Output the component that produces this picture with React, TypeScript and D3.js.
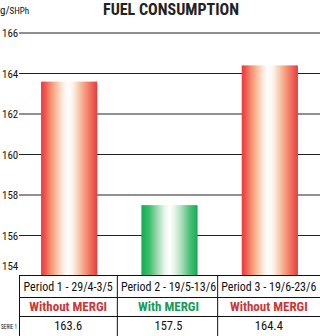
import React from "react";
import * as d3 from "d3";

const categories = ["Period 1 - 29/4-3/5", "Period 2 - 19/5-13/6", "Period 3 - 19/6-23/6"];
const conditions = ["Without MERGI", "With MERGI", "Without MERGI"];
const values = [163.6, 157.5, 164.4];
const valueLabels = ["163.6", "157.5", "164.4"];
const ticks = [154, 156, 158, 160, 162, 164, 166];
const seriesName = "SERIE 1";

const W = 320, H = 336;
const FONT = "'Liberation Sans Narrow', 'Arial Narrow', 'Roboto Condensed', 'Liberation Sans', sans-serif";

export default function App() {
  const y = d3.scaleLinear().domain([154, 166]).range([276, 33]);
  const x = d3.scaleBand<string>().domain(categories).range([19, 320]).paddingInner(0);
  const bw = x.bandwidth();
  const barW = bw * 0.56;
  const isGreen = (i: number) => conditions[i] === "With MERGI";
  const tableTop = 275;
  const rowLines = [297, 316];
  return (
    <div style={{ position: "absolute", left: 0, top: 0 }}>
      <svg width={W} height={H} style={{ display: "block", background: "#fff" }}>
        <defs>
          <linearGradient id="redG" x1="0" x2="1" y1="0" y2="0">
            <stop offset="0%" stopColor="#e83a3c" />
            <stop offset="8%" stopColor="#f05a52" />
            <stop offset="16%" stopColor="#f58b6e" />
            <stop offset="26%" stopColor="#f9b898" />
            <stop offset="36%" stopColor="#fbe2d2" />
            <stop offset="46%" stopColor="#ffffff" />
            <stop offset="56%" stopColor="#fcf4ec" />
            <stop offset="66%" stopColor="#f8cfb6" />
            <stop offset="76%" stopColor="#f6a283" />
            <stop offset="88%" stopColor="#f06e5e" />
            <stop offset="100%" stopColor="#e83c3c" />
          </linearGradient>
          <linearGradient id="greenG" x1="0" x2="1" y1="0" y2="0">
            <stop offset="0%" stopColor="#10ae50" />
            <stop offset="14%" stopColor="#3dbd6c" />
            <stop offset="28%" stopColor="#9dd9ae" />
            <stop offset="42%" stopColor="#ecf7ef" />
            <stop offset="50%" stopColor="#ffffff" />
            <stop offset="58%" stopColor="#eaf6ec" />
            <stop offset="72%" stopColor="#a8dcb6" />
            <stop offset="86%" stopColor="#4cc078" />
            <stop offset="100%" stopColor="#10ae50" />
          </linearGradient>
        </defs>
        <text x={0} y={14} fontFamily={FONT} fontSize={11} fill="#111">g/<tspan fontSize={9}>SHPh</tspan></text>
        <text x={171} y={15} textAnchor="middle" fontFamily={FONT} fontSize={16} fontWeight="bold" fill="#222">FUEL CONSUMPTION</text>
        {ticks.map((t) => (
          <g key={t}>
            {t !== 154 && <line x1={19} x2={320} y1={y(t)} y2={y(t)} stroke="#222" strokeWidth={1.2} />}
            <text x={2} y={t === 154 ? y(t) - 6 : y(t) + 4} fontFamily={FONT} fontSize={11} fill="#111">{t}</text>
          </g>
        ))}
        {categories.map((c, i) => (
          <rect key={c} x={(x(c) as number) + (bw - barW) / 2} y={y(values[i])} width={barW}
            height={y(154) - y(values[i])} fill={isGreen(i) ? "url(#greenG)" : "url(#redG)"} />
        ))}
        <rect x={19.5} y={tableTop + 0.5} width={301} height={H} fill="none" stroke="#111" strokeWidth={1} />
        {rowLines.map((ry) => (
          <line key={ry} x1={19} x2={320} y1={ry + 0.5} y2={ry + 0.5} stroke="#111" strokeWidth={1} />
        ))}
        {categories.slice(1).map((c) => (
          <line key={c} x1={(x(c) as number) - 2} x2={(x(c) as number) - 2} y1={tableTop} y2={H} stroke="#111" strokeWidth={1} />
        ))}
        {categories.map((c, i) => {
          const cx = (x(c) as number) + bw / 2 - 1;
          return (
            <g key={c}>
              <text x={cx} y={291} textAnchor="middle" fontFamily={FONT} fontSize={12} fill="#111">{c}</text>
              <text x={cx} y={311} textAnchor="middle" fontFamily={FONT} fontSize={13} fontWeight="bold"
                fill={isGreen(i) ? "#1a9a56" : "#c83838"}>{conditions[i]}</text>
              <text x={cx} y={330} textAnchor="middle" fontFamily={FONT} fontSize={12.5} fill="#111">{valueLabels[i]}</text>
            </g>
          );
        })}
        <text x={1} y={329} textLength={16} lengthAdjust="spacingAndGlyphs" fontFamily={FONT} fontSize={8} fill="#111">{seriesName}</text>
      </svg>
    </div>
  );
}
